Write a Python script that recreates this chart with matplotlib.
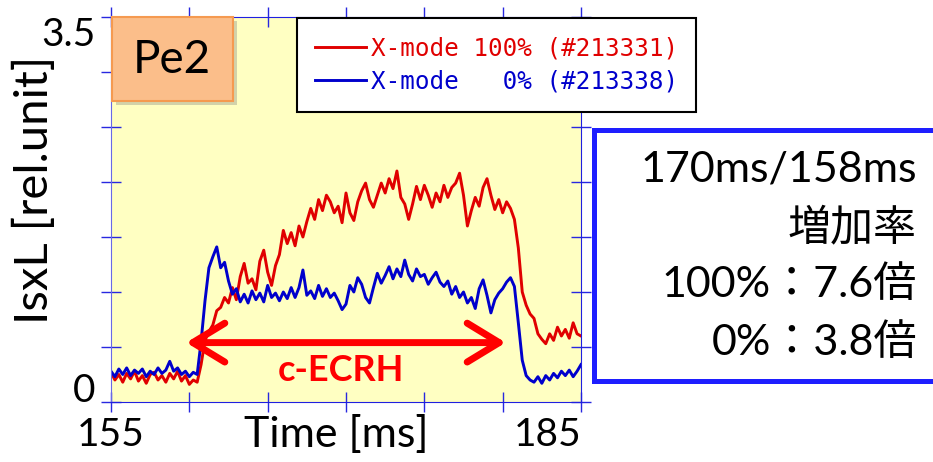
import numpy as np
import matplotlib.pyplot as plt
from matplotlib.patches import Rectangle

# time base of the sampled signals [ms]
time_ms = np.arange(155, 185.001, 0.25)

# IsxL, X-mode 100% (#213331)
isxl_100 = [
    0.27, 0.20, 0.25, 0.18, 0.26, 0.21, 0.28, 0.19,
    0.24, 0.17, 0.25, 0.27, 0.20, 0.24, 0.18, 0.26,
    0.21, 0.28, 0.19, 0.24, 0.16, 0.20, 0.18, 0.34,
    0.56, 0.64, 0.70, 0.83, 0.86, 0.95, 0.90, 1.04,
    0.93, 1.14, 1.26, 1.08, 1.12, 1.02, 1.28, 1.38,
    1.18, 1.06, 1.24, 1.34, 1.56, 1.44, 1.54, 1.42,
    1.60, 1.50, 1.64, 1.76, 1.66, 1.84, 1.74, 1.88,
    1.82, 1.72, 1.78, 1.63, 1.90, 1.72, 1.65, 1.82,
    1.92, 1.99, 1.84, 1.77, 1.88, 1.99, 1.90, 2.03,
    1.94, 2.10, 1.86, 1.80, 1.66, 1.80, 1.96, 1.84,
    1.97, 1.88, 1.77, 1.90, 1.82, 1.97, 1.86, 1.95,
    1.99, 2.08, 1.88, 1.60, 1.74, 1.86, 1.78, 1.95,
    2.03, 1.88, 1.75, 1.84, 1.72, 1.82, 1.76, 1.66,
    1.40, 1.00, 0.88, 0.80, 0.76, 0.62, 0.57, 0.53,
    0.62, 0.56, 0.68, 0.60, 0.66, 0.58, 0.72, 0.62,
    0.60,
]

# IsxL, X-mode 0% (#213338)
isxl_0 = [
    0.28, 0.23, 0.30, 0.25, 0.31, 0.24, 0.29, 0.26,
    0.30, 0.23, 0.28, 0.25, 0.31, 0.26, 0.29, 0.37,
    0.28, 0.31, 0.25, 0.28, 0.23, 0.27, 0.25, 0.55,
    0.92, 1.22, 1.32, 1.41, 1.22, 1.27, 1.10, 0.98,
    1.03, 0.91, 0.98, 0.90, 1.01, 0.93, 0.99, 0.91,
    1.06, 0.95, 0.99, 0.92, 1.00, 0.94, 1.04, 0.95,
    1.04, 1.20, 0.97, 1.01, 0.94, 1.06, 0.96, 1.03,
    0.95, 0.99, 0.92, 0.84, 0.89, 1.06, 1.00, 1.13,
    1.07, 0.95, 0.90, 1.04, 1.17, 1.08, 1.15, 1.23,
    1.12, 1.21, 1.14, 1.29, 1.16, 1.10, 1.21, 1.14,
    1.16, 1.07, 1.13, 1.18, 1.09, 1.05, 1.10, 0.98,
    1.05, 0.95, 1.00, 0.90, 0.95, 0.85, 1.03, 1.11,
    0.97, 0.81, 0.93, 0.99, 1.03, 1.09, 1.13, 1.05,
    0.72, 0.38, 0.24, 0.20, 0.18, 0.23, 0.17, 0.24,
    0.20, 0.26, 0.22, 0.28, 0.24, 0.29, 0.23, 0.28,
    0.34,
]

series_labels = ['X-mode 100% (#213331)', 'X-mode   0% (#213338)']

x_ticks = [155, 160, 165, 170, 175, 180, 185]
x_tick_labels = ['155', '', '', '', '', '', '185']
y_ticks = [0, 0.5, 1.0, 1.5, 2.0, 2.5, 3.0, 3.5]
y_tick_labels = ['0', '', '', '', '', '', '', '3.5']

# ECRH window (arrow tips) and the level of the arrow marking it
ecrh_start, ecrh_end = 159.8, 180.2
arrow_level = 0.54

info_lines = ['170ms/158ms', '増加率', '100%：7.6倍', '0%：3.8倍']

plt.rcParams['font.family'] = ['Lato', 'Noto Sans CJK JP']

fig = plt.figure(figsize=(9.33, 4.62), dpi=100)
ax = fig.add_axes([111 / 933, 60 / 462, 470 / 933, 385 / 462])
ax.set_facecolor('#FFFFC2')

ax.plot(time_ms, isxl_100, color='#E00000', lw=2.1, label=series_labels[0])
ax.plot(time_ms, isxl_0, color='#0000CC', lw=2.1, label=series_labels[1])

ax.set_xlim(155, 185)
ax.set_ylim(0, 3.5)
ax.set_xticks(x_ticks, x_tick_labels)
ax.set_yticks(y_ticks, y_tick_labels)
ax.tick_params(direction='inout', length=14, width=1, color='#2828E0',
               top=True, right=True, labelsize=28)
ax.tick_params(axis='x', pad=4)
ax.tick_params(axis='y', pad=4)
ax.get_xticklabels()[-1].set_ha('right')
ax.get_yticklabels()[0].set_va('baseline')
ax.get_yticklabels()[-1].set_va('top')
for side in ['top', 'bottom', 'right']:
    ax.spines[side].set_color('#2020E0')
ax.spines['left'].set_color('#6868E8')

ax.set_xlabel('Time [ms]', fontsize=31)
ax.xaxis.set_label_coords(0.479, -0.035)
ax.set_ylabel('IsxL [rel.unit]', fontsize=34)
ax.yaxis.set_label_coords(-0.118, 0.55)

leg = ax.legend(loc='upper left', bbox_to_anchor=(0.396, 0.997),
                prop={'family': 'DejaVu Sans Mono', 'size': 17.5},
                labelcolor='linecolor', frameon=True, fancybox=False,
                edgecolor='black', framealpha=1, handlelength=2.1,
                handletextpad=0.2, borderpad=0.74, labelspacing=0.4,
                borderaxespad=0)
leg.get_frame().set_linewidth(1.5)
leg.set_zorder(5)

# ECRH heating window
ax.annotate('', xy=(ecrh_start, arrow_level), xytext=(ecrh_end, arrow_level),
            arrowprops=dict(arrowstyle='<->,head_length=2.3,head_width=1.4',
                            lw=5, color='#FF0000', capstyle='round',
                            joinstyle='round', shrinkA=0, shrinkB=0))
ax.text((ecrh_start + ecrh_end) / 2 - 0.3, 0.29, 'c-ECRH', color='#FF0000',
        fontsize=26, fontweight='bold', ha='center', va='center')

# probe name tag with a soft drop shadow
fig.add_artist(Rectangle((116 / 933, 1 - 105 / 462), 121 / 933, 84 / 462,
                         transform=fig.transFigure, facecolor='#808080',
                         edgecolor='none', alpha=0.35, zorder=6))
fig.add_artist(Rectangle((112 / 933, 1 - 101 / 462), 121 / 933, 84 / 462,
                         transform=fig.transFigure, facecolor='#FBBE8A',
                         edgecolor='#F59A50', lw=1.5, zorder=7))
fig.text(172 / 933, 1 - 60 / 462, 'Pe2', fontsize=33, ha='center',
         va='center', zorder=8)

# increase-ratio box on the right
fig.add_artist(Rectangle((594 / 933, 1 - 381 / 462), 400 / 933, 251 / 462,
                         transform=fig.transFigure, facecolor='white',
                         edgecolor='#1E1EFF', lw=3.6, zorder=6,
                         clip_on=False))
for i, line in enumerate(info_lines):
    fig.text(917 / 933, 1 - (169 + 58 * i) / 462, line, fontsize=31,
             ha='right', va='center', zorder=8)

fig.savefig('out.png', dpi=100)
